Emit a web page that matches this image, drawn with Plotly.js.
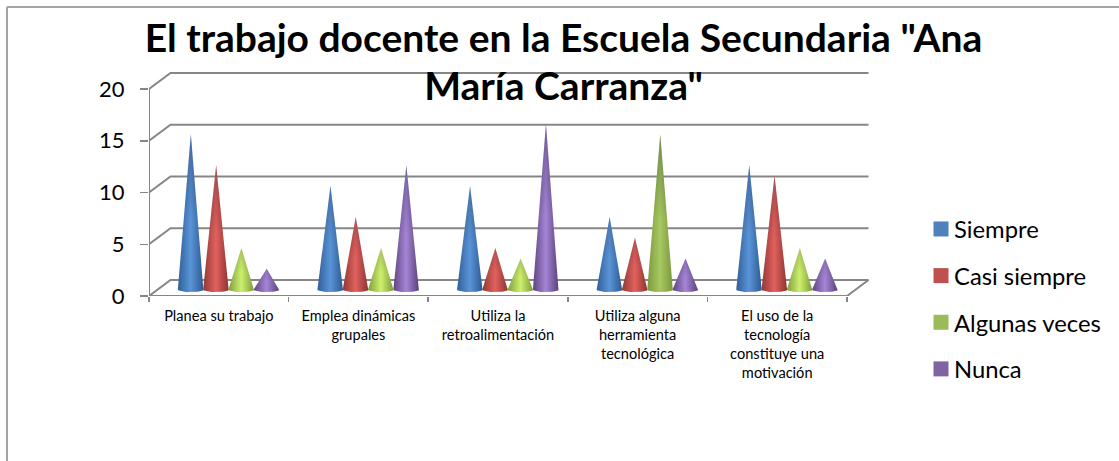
<!DOCTYPE html>
<html><head><meta charset="utf-8">
<script src="https://cdn.plot.ly/plotly-3.0.1.min.js"></script>
<style>html,body{margin:0;padding:0;background:#fff;overflow:hidden}#c{width:1119px;height:461px}</style>
</head><body><div id="c"></div>
<script>
const categories = ["Planea su trabajo","Emplea dinámicas<br>grupales","Utiliza la<br>retroalimentación","Utiliza alguna<br>herramienta<br>tecnológica","El uso de la<br>tecnología<br>constituye una<br>motivación"];
const seriesNames = ["Siempre","Casi siempre","Algunas veces","Nunca"];
const siempre = [15,10,10,7,12];
const casiSiempre = [12,7,4,5,11];
const algunasVeces = [4,4,3,15,4];
const nunca = [2,12,16,3,3];
const yTicks = [0,5,10,15,20];
const seriesValues = [siempre,casiSiempre,algunasVeces,nunca];
const swatch = ["#4F81BD","#C0504D","#9BBB59","#8064A2"];
const shade = [
 ["#2f5f97","#5a94d8","#2c5a90"],
 ["#8f3835","#e2615e","#8a3431"],
 ["#7f9c3f","#cdf06c","#7d9a3d"],
 ["#5f4580","#a585d6","#5a4179"]];
const tallGreen = ["#7c983e","#a8c962","#7a963c"];

const L=149,T=69,W=725,H=227;            // plot box in px
const xUnit=139.6,yUnit=10.35;           // px per axis unit
const depthX=21.5/xUnit, depthY=16/yUnit;
const coneStep=25.3/xUnit, coneRx=13/xUnit, coneRy=2.6/yUnit;
const coneDX=10/xUnit, coneDY=6.5/yUnit;
const grid="#868686";
const nCat=categories.length;

const traces=[];
{const x=[],y=[];
 yTicks.forEach(v=>{x.push(0,depthX,nCat+depthX,null);y.push(v,v+depthY,v+depthY,null);});
 traces.push({x,y,mode:'lines',line:{color:grid,width:2},showlegend:false,hoverinfo:'skip',cliponaxis:false});
 traces.push({x:[0,0,null,0,nCat,nCat+depthX],y:[yTicks[yTicks.length-1],0,null,0,0,depthY],mode:'lines',line:{color:grid,width:2},showlegend:false,hoverinfo:'skip',cliponaxis:false});
}
seriesValues.forEach((vals,s)=>{
 vals.forEach((v,c)=>{
  const cx=c+0.5+coneDX+(s-1.5)*coneStep, by=coneDY;
  const xs=[cx],ys=[by+v];
  for(let i=0;i<=24;i++){const a=Math.PI*i/24;xs.push(cx+coneRx*Math.cos(a));ys.push(by-coneRy*Math.sin(a));}
  xs.push(cx);ys.push(by+v);
  const g=(s===2&&v>10)?tallGreen:shade[s];
  traces.push({x:xs,y:ys,mode:'lines',line:{width:0,color:'rgba(0,0,0,0)'},fill:'toself',
    fillgradient:{type:'horizontal',colorscale:[[0,g[0]],[0.5,g[1]],[1,g[2]]]},
    fillcolor:swatch[s],showlegend:false,hoverinfo:'skip',name:seriesNames[s]});
  const top=v/16;
  traces.push({x:xs,y:ys,mode:'lines',line:{width:0,color:'rgba(0,0,0,0)'},fill:'toself',
    fillgradient:{type:'vertical',colorscale:[[0,'rgba(0,0,0,0)'],[0.45,'rgba(0,0,0,0)'],[1,'rgba(20,30,60,'+(0.15+0.2*top)+')']]},
    showlegend:false,hoverinfo:'skip'});
 });
});
seriesNames.forEach((n,s)=>{
 traces.push({x:[null],y:[null],mode:'markers',name:n,legendgroup:n,marker:{symbol:'square',size:15,color:swatch[s]},hoverinfo:'skip'});
});

const px=v=>(v-L)/W, py=v=>1-(v-T)/H;
const layout={
 width:1119,height:461,margin:{l:L,r:1119-L-W,t:T,b:461-T-H,pad:0,autoexpand:false},
 paper_bgcolor:'#fff',plot_bgcolor:'#fff',
 font:{family:'Lato, sans-serif',color:'#000'},
 title:{text:'<span style="font-size:39px">El trabajo docente en la Escuela Secundaria "Ana</span><br><span style="font-size:39px">María Carranza"</span>',
  font:{family:'Lato, sans-serif',size:37,weight:700,color:'#000'},
  x:563.5/1119,xref:'container',xanchor:'center',y:0.887,yref:'container',yanchor:'top'},
 xaxis:{range:[0,W/xUnit],tickmode:'array',tickvals:categories.map((_,i)=>i+0.5),ticktext:categories,
  ticks:'',showgrid:false,zeroline:false,showline:false,tickangle:0,tickfont:{size:14.6,color:'#000'},ticklabelstandoff:9,
  minor:{tickmode:'array',tickvals:[0,1,2,3,4,5],ticks:'outside',ticklen:5,tickcolor:grid,tickwidth:1.5,showgrid:false},fixedrange:true},
 yaxis:{range:[0,H/yUnit],tickmode:'array',tickvals:yTicks,ticks:'outside',ticklen:8,tickcolor:grid,tickwidth:1.5,
  showgrid:false,zeroline:false,showline:false,tickfont:{size:22,color:'#000'},ticklabelstandoff:11,fixedrange:true},
 legend:{x:px(921),xanchor:'left',y:py(207),yanchor:'top',itemsizing:'trace',tracegroupgap:12.7,bgcolor:'rgba(0,0,0,0)',font:{size:23.8,color:'#000'}},
 shapes:[
  {type:'line',xref:'paper',yref:'paper',x0:px(7),x1:px(1119),y0:py(7),y1:py(7),line:{color:'#a3a3a3',width:2}},
  {type:'line',xref:'paper',yref:'paper',x0:px(7),x1:px(7),y0:py(7),y1:py(461),line:{color:'#a3a3a3',width:2}}
 ]
};
Plotly.newPlot('c',traces,layout,{displayModeBar:false,staticPlot:true}).then(()=>{
 document.querySelectorAll('.legendtext').forEach(t=>t.setAttribute('x',+t.getAttribute('x')-7));
});
</script></body></html>
